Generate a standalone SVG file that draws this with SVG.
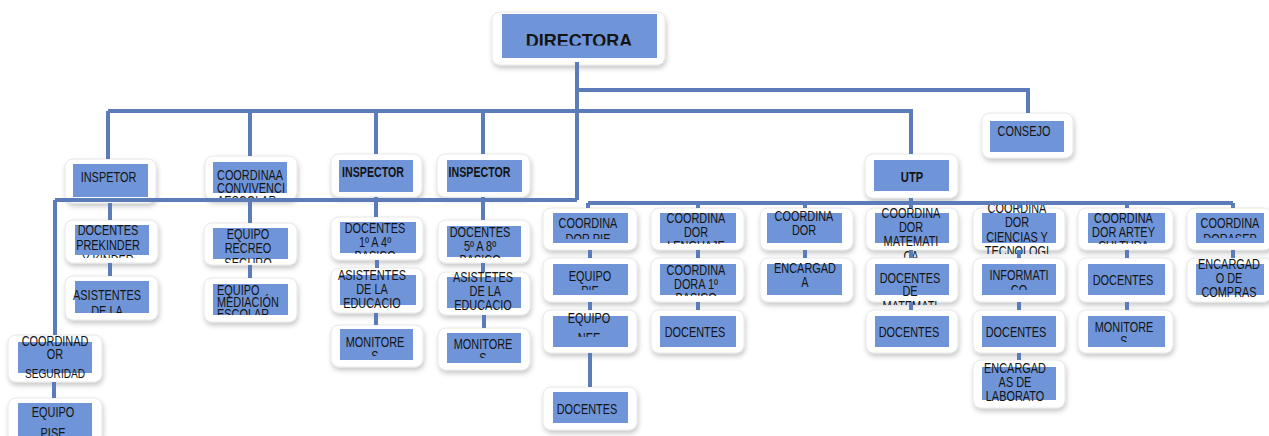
<svg xmlns="http://www.w3.org/2000/svg" width="1269" height="436" viewBox="0 0 1269 436">
<style>
.outer{fill:#fff;stroke:#e2e2e2;stroke-width:.8;filter:url(#sh)}
.inner{fill:#6f94d7}
.t{font-family:"Liberation Sans",Arial,sans-serif;font-size:14px;fill:#141414;text-anchor:middle}
.b{font-weight:bold}
.l{text-anchor:start}
.c{fill:none;stroke:#5b7cb8;stroke-width:4}
</style>
<defs>
<filter id="sh" x="-20%" y="-20%" width="140%" height="150%">
<feDropShadow dx="1" dy="3" stdDeviation="2.5" flood-color="#000" flood-opacity="0.22"/>
</filter>
<clipPath id="cp-dir"><rect x="492" y="0" width="173" height="45.5"/></clipPath>
<clipPath id="cp-conv"><rect x="205" y="0" width="92" height="200"/></clipPath>
<clipPath id="cp-prek"><rect x="65" y="0" width="93" height="258"/></clipPath>
<clipPath id="cp-asisl"><rect x="65" y="0" width="93" height="313"/></clipPath>
<clipPath id="cp-recreo"><rect x="204" y="0" width="93" height="263"/></clipPath>
<clipPath id="cp-med"><rect x="204" y="0" width="93" height="315"/></clipPath>
<clipPath id="cp-d14"><rect x="331" y="0" width="92" height="254"/></clipPath>
<clipPath id="cp-m1"><rect x="331" y="0" width="92" height="356"/></clipPath>
<clipPath id="cp-d58"><rect x="438" y="0" width="92" height="258"/></clipPath>
<clipPath id="cp-m2"><rect x="438" y="0" width="92" height="358"/></clipPath>
<clipPath id="cp-pie"><rect x="543" y="0" width="94" height="239"/></clipPath>
<clipPath id="cp-epie"><rect x="543" y="0" width="94" height="290"/></clipPath>
<clipPath id="cp-nee"><rect x="543" y="0" width="94" height="337"/></clipPath>
<clipPath id="cp-leng"><rect x="651" y="0" width="93" height="244"/></clipPath>
<clipPath id="cp-c1b"><rect x="651" y="0" width="93" height="296"/></clipPath>
<clipPath id="cp-dmat"><rect x="866" y="0" width="92" height="305"/></clipPath>
<clipPath id="cp-cie"><rect x="973" y="0" width="92" height="254"/></clipPath>
<clipPath id="cp-info"><rect x="973" y="0" width="92" height="290"/></clipPath>
<clipPath id="cp-arte"><rect x="1078" y="0" width="95" height="244"/></clipPath>
<clipPath id="cp-marte"><rect x="1078" y="0" width="95" height="342"/></clipPath>
<clipPath id="cp-sep"><rect x="1187" y="0" width="85" height="238"/></clipPath>
</defs>

<g id="n-directora"><rect class="outer" x="492" y="12" width="173" height="53" rx="8"/><rect class="inner" x="502" y="14" width="155" height="44"/><g clip-path="url(#cp-dir)"><text class="t b" x="579" y="47" style="font-size:18px">DIRECTORA</text></g></g>

<g id="n-inspetor"><rect class="outer" x="65" y="159" width="91" height="44" rx="8"/><rect class="inner" x="73" y="164" width="75" height="33"/><text class="t" transform="translate(108.5 0) scale(0.78 1)" x="0" y="182">INSPETOR</text></g>

<g id="n-convivencia"><rect class="outer" x="205" y="156" width="92" height="44" rx="8"/><rect class="inner" x="213" y="162" width="74" height="31"/><g clip-path="url(#cp-conv)"><text class="t l" transform="translate(217 0) scale(0.78 1)"><tspan x="0" y="180">COORDINAA</tspan><tspan x="0" y="193">CONVIVENCI</tspan><tspan x="0" y="206">AESCOLAR</tspan></text></g></g>

<g id="n-inspector1"><rect class="outer" x="331" y="154" width="91" height="43" rx="8"/><rect class="inner" x="339" y="160" width="74" height="32"/><text class="t b" transform="translate(373 0) scale(0.76 1)" x="0" y="177">INSPECTOR</text></g>

<g id="n-inspector2"><rect class="outer" x="437" y="154" width="93" height="43" rx="8"/><rect class="inner" x="447" y="160" width="75" height="32"/><text class="t b" transform="translate(479.5 0) scale(0.76 1)" x="0" y="177">INSPECTOR</text></g>

<g id="n-consejo"><rect class="outer" x="982" y="113" width="91" height="45" rx="8"/><rect class="inner" x="990" y="121" width="74" height="31"/><text class="t" transform="translate(1024 0) scale(0.78 1)" x="0" y="136">CONSEJO</text></g>

<g id="n-utp"><rect class="outer" x="865" y="154" width="93" height="44" rx="8"/><rect class="inner" x="874" y="160" width="75" height="31"/><text class="t b" transform="translate(912 0) scale(0.8 1)" x="0" y="182">UTP</text></g>

<g id="n-prekinder"><rect class="outer" x="65" y="220" width="93" height="43" rx="8"/><rect class="inner" x="75" y="225" width="74" height="30"/><g clip-path="url(#cp-prek)"><text class="t" transform="translate(108 0) scale(0.78 1)"><tspan x="0" y="235">DOCENTES</tspan><tspan x="0" y="250">PREKINDER</tspan><tspan x="0" y="265">Y KINDER</tspan></text></g></g>

<g id="n-asistentes-l"><rect class="outer" x="65" y="276" width="93" height="44" rx="8"/><rect class="inner" x="75" y="281" width="74" height="32"/><g clip-path="url(#cp-asisl)"><text class="t" transform="translate(107 0) scale(0.78 1)"><tspan x="0" y="300">ASISTENTES</tspan><tspan x="0" y="316">DE LA</tspan></text></g></g>

<g id="n-seguridad"><rect class="outer" x="8" y="335" width="94" height="47" rx="8"/><rect class="inner" x="18" y="342" width="74" height="31"/><text class="t" transform="translate(55 0) scale(0.78 1)"><tspan x="0" y="346">COORDINAD</tspan><tspan x="0" y="359">OR</tspan><tspan x="0" y="378" style="font-size:13px">SEGURIDAD</tspan></text></g>

<g id="n-pise"><rect class="outer" x="8" y="398" width="94" height="45" rx="8"/><rect class="inner" x="18" y="403" width="74" height="36"/><text class="t" transform="translate(53 0) scale(0.78 1)"><tspan x="0" y="417">EQUIPO</tspan><tspan x="0" y="438">PISE</tspan></text></g>

<g id="n-recreo"><rect class="outer" x="204" y="223" width="93" height="42" rx="8"/><rect class="inner" x="213" y="228" width="75" height="31"/><g clip-path="url(#cp-recreo)"><text class="t" transform="translate(248 0) scale(0.78 1)"><tspan x="0" y="239">EQUIPO</tspan><tspan x="0" y="253">RECREO</tspan><tspan x="0" y="268">SEGURO</tspan></text></g></g>

<g id="n-mediacion"><rect class="outer" x="204" y="278" width="93" height="44" rx="8"/><rect class="inner" x="213" y="284" width="75" height="31"/><g clip-path="url(#cp-med)"><text class="t l" transform="translate(217 0) scale(0.78 1)"><tspan x="0" y="295">EQUIPO</tspan><tspan x="0" y="307">MEDIACIÓN</tspan><tspan x="0" y="319">ESCOLAR</tspan></text></g></g>

<g id="n-docentes14"><rect class="outer" x="331" y="217" width="92" height="43" rx="8"/><rect class="inner" x="340" y="222" width="76" height="31"/><g clip-path="url(#cp-d14)"><text class="t" transform="translate(375 0) scale(0.78 1)"><tspan x="0" y="233">DOCENTES</tspan><tspan x="0" y="247">1º A 4º</tspan><tspan x="0" y="261">BASICO</tspan></text></g></g>

<g id="n-asistentes1"><rect class="outer" x="331" y="268" width="92" height="45" rx="8"/><rect class="inner" x="340" y="275" width="76" height="30"/><text class="t" transform="translate(372 0) scale(0.78 1)"><tspan x="0" y="280">ASISTENTES</tspan><tspan x="0" y="294">DE LA</tspan><tspan x="0" y="308">EDUCACIO</tspan></text></g>

<g id="n-monitores1"><rect class="outer" x="331" y="325" width="92" height="42" rx="8"/><rect class="inner" x="340" y="329" width="73" height="31"/><g clip-path="url(#cp-m1)"><text class="t" transform="translate(375 0) scale(0.78 1)"><tspan x="0" y="347">MONITORE</tspan><tspan x="0" y="361">S</tspan></text></g></g>

<g id="n-docentes58"><rect class="outer" x="438" y="220" width="92" height="43" rx="8"/><rect class="inner" x="447" y="226" width="74" height="31"/><g clip-path="url(#cp-d58)"><text class="t" transform="translate(480 0) scale(0.78 1)"><tspan x="0" y="237">DOCENTES</tspan><tspan x="0" y="251">5º A 8º</tspan><tspan x="0" y="265">BASICO</tspan></text></g></g>

<g id="n-asistentes2"><rect class="outer" x="438" y="272" width="92" height="43" rx="8"/><rect class="inner" x="447" y="277" width="74" height="31"/><text class="t" transform="translate(483 0) scale(0.78 1)"><tspan x="0" y="282">ASISTETES</tspan><tspan x="3" y="296">DE LA</tspan><tspan x="0" y="310">EDUCACIO</tspan></text></g>

<g id="n-monitores2"><rect class="outer" x="438" y="328" width="92" height="42" rx="8"/><rect class="inner" x="447" y="333" width="74" height="30"/><g clip-path="url(#cp-m2)"><text class="t" transform="translate(483 0) scale(0.78 1)"><tspan x="0" y="349">MONITORE</tspan><tspan x="0" y="363">S</tspan></text></g></g>

<g id="n-coord-pie"><rect class="outer" x="543" y="208" width="94" height="42" rx="8"/><rect class="inner" x="553" y="213" width="75" height="30"/><g clip-path="url(#cp-pie)"><text class="t" transform="translate(588 0) scale(0.78 1)"><tspan x="0" y="228">COORDINA</tspan><tspan x="0" y="244">DOR PIE</tspan></text></g></g>

<g id="n-equipo-pie"><rect class="outer" x="543" y="258" width="94" height="44" rx="8"/><rect class="inner" x="553" y="264" width="75" height="31"/><g clip-path="url(#cp-epie)"><text class="t" transform="translate(590 0) scale(0.78 1)"><tspan x="0" y="281">EQUIPO</tspan><tspan x="0" y="296">PIE</tspan></text></g></g>

<g id="n-equipo-nee"><rect class="outer" x="543" y="310" width="94" height="43" rx="8"/><rect class="inner" x="553" y="316" width="75" height="31"/><g clip-path="url(#cp-nee)"><text class="t" transform="translate(589 0) scale(0.78 1)"><tspan x="0" y="323">EQUIPO</tspan><tspan x="0" y="343">NEE</tspan></text></g></g>

<g id="n-docentes-pie"><rect class="outer" x="543" y="387" width="94" height="43" rx="8"/><rect class="inner" x="553" y="392" width="75" height="31"/><text class="t" transform="translate(587 0) scale(0.78 1)" x="0" y="414">DOCENTES</text></g>

<g id="n-coord-lenguaje"><rect class="outer" x="651" y="208" width="93" height="42" rx="8"/><rect class="inner" x="660" y="213" width="76" height="30"/><g clip-path="url(#cp-leng)"><text class="t" transform="translate(696 0) scale(0.78 1)"><tspan x="0" y="223">COORDINA</tspan><tspan x="0" y="237">DOR</tspan><tspan x="0" y="251">LENGUAJE</tspan></text></g></g>

<g id="n-coord-1basico"><rect class="outer" x="651" y="258" width="93" height="44" rx="8"/><rect class="inner" x="660" y="264" width="76" height="31"/><g clip-path="url(#cp-c1b)"><text class="t" transform="translate(696 0) scale(0.78 1)"><tspan x="0" y="275">COORDINA</tspan><tspan x="0" y="289">DORA 1º</tspan><tspan x="0" y="303">BASICO</tspan></text></g></g>

<g id="n-docentes-leng"><rect class="outer" x="651" y="310" width="93" height="43" rx="8"/><rect class="inner" x="660" y="316" width="76" height="31"/><text class="t" transform="translate(695 0) scale(0.78 1)" x="0" y="337">DOCENTES</text></g>

<g id="n-coordinador"><rect class="outer" x="760" y="208" width="93" height="42" rx="8"/><rect class="inner" x="767" y="213" width="75" height="30"/><text class="t" transform="translate(804 0) scale(0.78 1)"><tspan x="0" y="221">COORDINA</tspan><tspan x="0" y="235">DOR</tspan></text></g>

<g id="n-encargada"><rect class="outer" x="760" y="258" width="93" height="44" rx="8"/><rect class="inner" x="767" y="264" width="75" height="31"/><text class="t" transform="translate(805 0) scale(0.78 1)"><tspan x="0" y="273">ENCARGAD</tspan><tspan x="0" y="287">A</tspan></text></g>

<g id="n-coord-mat"><rect class="outer" x="866" y="208" width="92" height="42" rx="8"/><rect class="inner" x="875" y="213" width="74" height="30"/><text class="t" transform="translate(911 0) scale(0.78 1)"><tspan x="0" y="218">COORDINA</tspan><tspan x="0" y="232">DOR</tspan><tspan x="0" y="246">MATEMATI</tspan><tspan x="0" y="261">CA</tspan></text></g>

<g id="n-docentes-dmat"><rect class="outer" x="866" y="258" width="92" height="44" rx="8"/><rect class="inner" x="875" y="264" width="74" height="31"/><g clip-path="url(#cp-dmat)"><text class="t" transform="translate(910 0) scale(0.78 1)"><tspan x="0" y="283">DOCENTES</tspan><tspan x="0" y="296">DE</tspan><tspan x="0" y="311">MATEMATI</tspan></text></g></g>

<g id="n-docentes-mat"><rect class="outer" x="866" y="310" width="92" height="43" rx="8"/><rect class="inner" x="875" y="316" width="74" height="31"/><text class="t" transform="translate(909 0) scale(0.78 1)" x="0" y="337">DOCENTES</text></g>

<g id="n-coord-ciencias"><rect class="outer" x="973" y="208" width="92" height="42" rx="8"/><rect class="inner" x="982" y="213" width="74" height="30"/><g clip-path="url(#cp-cie)"><text class="t" transform="translate(1017 0) scale(0.78 1)"><tspan x="0" y="213">COORDINA</tspan><tspan x="0" y="227">DOR</tspan><tspan x="0" y="242">CIENCIAS Y</tspan><tspan x="0" y="256">TECNOLOGI</tspan></text></g></g>

<g id="n-informatico"><rect class="outer" x="973" y="258" width="92" height="44" rx="8"/><rect class="inner" x="982" y="264" width="74" height="31"/><g clip-path="url(#cp-info)"><text class="t" transform="translate(1019 0) scale(0.78 1)"><tspan x="0" y="280">INFORMATI</tspan><tspan x="0" y="295">CO</tspan></text></g></g>

<g id="n-docentes-cie"><rect class="outer" x="973" y="310" width="92" height="43" rx="8"/><rect class="inner" x="982" y="316" width="74" height="31"/><text class="t" transform="translate(1016 0) scale(0.78 1)" x="0" y="337">DOCENTES</text></g>

<g id="n-laboratorio"><rect class="outer" x="973" y="360" width="92" height="48" rx="8"/><rect class="inner" x="982" y="367" width="74" height="33"/><text class="t" transform="translate(1015 0) scale(0.78 1)"><tspan x="0" y="373">ENCARGAD</tspan><tspan x="0" y="387">AS DE</tspan><tspan x="0" y="401">LABORATO</tspan></text></g>

<g id="n-coord-arte"><rect class="outer" x="1078" y="208" width="95" height="42" rx="8"/><rect class="inner" x="1088" y="213" width="77" height="30"/><g clip-path="url(#cp-arte)"><text class="t" transform="translate(1123.5 0) scale(0.78 1)"><tspan x="0" y="223">COORDINA</tspan><tspan x="0" y="237">DOR ARTEY</tspan><tspan x="0" y="251">CULTURA</tspan></text></g></g>

<g id="n-docentes-arte"><rect class="outer" x="1078" y="258" width="95" height="44" rx="8"/><rect class="inner" x="1088" y="264" width="77" height="31"/><text class="t" transform="translate(1123 0) scale(0.78 1)" x="0" y="285">DOCENTES</text></g>

<g id="n-monitores-arte"><rect class="outer" x="1078" y="310" width="95" height="43" rx="8"/><rect class="inner" x="1088" y="316" width="77" height="31"/><g clip-path="url(#cp-marte)"><text class="t" transform="translate(1124 0) scale(0.78 1)"><tspan x="0" y="332">MONITORE</tspan><tspan x="0" y="346">S</tspan></text></g></g>

<g id="n-coord-sep"><rect class="outer" x="1187" y="208" width="85" height="42" rx="8"/><rect class="inner" x="1196" y="213" width="68" height="30"/><g clip-path="url(#cp-sep)"><text class="t" transform="translate(1230 0) scale(0.78 1)"><tspan x="0" y="228">COORDINA</tspan><tspan x="0" y="244">DORASEP</tspan></text></g></g>

<g id="n-compras"><rect class="outer" x="1187" y="258" width="85" height="44" rx="8"/><rect class="inner" x="1196" y="264" width="68" height="31"/><text class="t" transform="translate(1229 0) scale(0.78 1)"><tspan x="0" y="269">ENCARGAD</tspan><tspan x="0" y="283">O DE</tspan><tspan x="0" y="297">COMPRAS</tspan></text></g>

<g id="connectors" class="c">
<path class="c" d="M577 62V200"/>
<path class="c" d="M577 90H1028V113"/>
<path class="c" d="M108 111H911V154"/>
<path class="c" d="M108 111V159M250 111V156M376 111V154M483 111V154"/>
<path class="c" d="M55 200H577M55 200V335"/>
<path class="c" d="M110 203V220M110 263V276"/>
<path class="c" d="M250 200V223M250 265V278"/>
<path class="c" d="M376 197V217M377 260V268M376 313V325"/>
<path class="c" d="M483 197V220M483 263V272M484 315V328"/>
<path class="c" d="M54 382V398"/>
<path class="c" d="M911 198V208M588 203H1233"/>
<path class="c" d="M588 203V208M698 203V208M805 203V208M1019 203V208M1127 203V208M1233 203V208"/>
<path class="c" d="M590 250V258M590 302V310M590 353V387"/>
<path class="c" d="M698 250V258M698 302V310"/>
<path class="c" d="M805 250V258"/>
<path class="c" d="M911 250V258M911 302V310"/>
<path class="c" d="M1019 250V258M1019 302V310M1019 353V360"/>
<path class="c" d="M1127 250V258M1127 302V310"/>
<path class="c" d="M1233 250V258"/>
</g>
</svg>
